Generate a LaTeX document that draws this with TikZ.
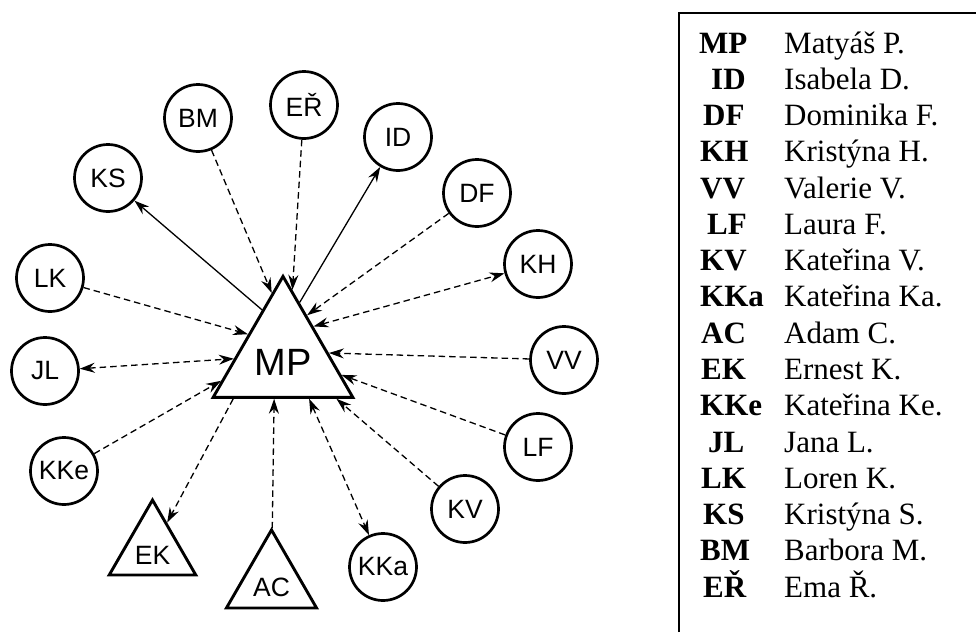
\documentclass[tikz,border=0pt]{standalone}
\usepackage{fontspec}
\setmainfont{Liberation Serif}
\newfontfamily\arialf{Liberation Sans}
\usetikzlibrary{arrows.meta,shapes.geometric}
\newcommand{\lowtext}[1]{\raisebox{-5pt}[\height][\depth]{#1}}
\begin{document}
\begin{tikzpicture}[x=1pt,y=-1pt,
  >={Stealth[length=15pt,width=10pt,inset=5pt]},
  person/.style={circle,draw,line width=2.7pt,minimum size=67pt,inner sep=0pt,
    font=\arialf\fontsize{26.5}{26.5}\selectfont},
  tri/.style={regular polygon,regular polygon sides=3,draw,line width=2.9pt,inner sep=0pt,
    font=\arialf\fontsize{26.5}{26.5}\selectfont},
  link/.style={line width=1.3pt},
  dlink/.style={link,dash pattern=on 6.5pt off 4pt},
  abbr/.style={anchor=base west,inner sep=0pt,font=\bfseries\fontsize{31}{31}\selectfont},
  nm/.style={anchor=base west,inner sep=0pt,font=\fontsize{31}{31}\selectfont}
]
\useasboundingbox (0,0) rectangle (976,632);

% central node and triangles
\node[tri,minimum size=128pt,font=\arialf\fontsize{38}{38}\selectfont] (MP) at (283,357) {\lowtext{MP}};
\node[tri,minimum size=96pt] (EK) at (152.5,550) {\lowtext{EK}};
\node[tri,minimum size=95pt] (AC) at (271.5,582) {\lowtext{AC}};

% circles
\node[person] (BM)  at (198,118) {BM};
\node[person] (ER)  at (304,105) {EŘ};
\node[person] (KS)  at (108,178) {KS};
\node[person] (LK)  at (50,278)  {LK};
\node[person] (ID)  at (398,137) {ID};
\node[person] (DF)  at (477,193) {DF};
\node[person] (KH)  at (538,264) {KH};
\node[person] (VV)  at (564,360) {VV};
\node[person] (LF)  at (538,447) {LF};
\node[person] (KV)  at (465,509) {KV};
\node[person] (KKa) at (383,567) {KKa};
\node[person] (JL)  at (45,371)  {JL};
\node[person] (KKe) at (64,471)  {KKe};

% connectors
\draw[dlink,->] (BM) -- (MP.100.5);
\draw[dlink,->] (ER) -- (MP.82.4);
\draw[link,->] (MP.114.8) -- (KS);
\draw[link,->] (MP.73.3) -- (ID);
\draw[dlink,->] (LK) -- (MP.147.7);
\draw[dlink,->] (DF) -- (MP.60.3);
\draw[dlink,<->] (MP.45) -- (KH);
\draw[dlink,->] (VV) -- (MP.5.4);
\draw[dlink,->] (LF) -- (MP.343.8);
\draw[dlink,->] (KV) -- (MP.322.5);
\draw[dlink,<->] (MP.302.2) -- (KKa);
\draw[dlink,->] (AC) -- (MP.258);
\draw[dlink,->] (MP.220) -- (EK);
\draw[dlink,->] (KKe) -- (MP.201.6);
\draw[dlink,<->] (JL) -- (MP.182.5);

% legend frame
\draw[line width=1.3pt] (679,632) -- (679,13) -- (976,13);

% legend entries
\node[abbr] (lMP)  at (699,53.0)  {MP};   \node[nm] (nMP)  at (784,53.0)  {Matyáš P.};
\node[abbr] (lID)  at (711,89.3)  {ID};   \node[nm] (nID)  at (784,89.3)  {Isabela D.};
\node[abbr] (lDF)  at (703,125.5) {DF};   \node[nm] (nDF)  at (784,125.5) {Dominika F.};
\node[abbr] (lKH)  at (700,161.8) {KH};   \node[nm] (nKH)  at (784,161.8) {Kristýna H.};
\node[abbr] (lVV)  at (700,198.1) {VV};   \node[nm] (nVV)  at (784,198.1) {Valerie V.};
\node[abbr] (lLF)  at (707,234.4) {LF};   \node[nm] (nLF)  at (784,234.4) {Laura F.};
\node[abbr] (lKV)  at (700,270.6) {KV};   \node[nm] (nKV)  at (784,270.6) {Kateřina V.};
\node[abbr] (lKKa) at (700,306.9) {KKa};  \node[nm] (nKKa) at (784,306.9) {Kateřina Ka.};
\node[abbr] (lAC)  at (701,343.2) {AC};   \node[nm] (nAC)  at (784,343.2) {Adam C.};
\node[abbr] (lEK)  at (701,379.4) {EK};   \node[nm] (nEK)  at (784,379.4) {Ernest K.};
\node[abbr] (lKKe) at (700,415.7) {KKe};  \node[nm] (nKKe) at (784,415.7) {Kateřina Ke.};
\node[abbr] (lJL)  at (708,452.0) {JL};   \node[nm] (nJL)  at (784,452.0) {Jana L.};
\node[abbr] (lLK)  at (701,488.2) {LK};   \node[nm] (nLK)  at (784,488.2) {Loren K.};
\node[abbr] (lKS)  at (703,524.5) {KS};   \node[nm] (nKS)  at (784,524.5) {Kristýna S.};
\node[abbr] (lBM)  at (700,560.8) {BM};   \node[nm] (nBM)  at (784,560.8) {Barbora M.};
\node[abbr] (lER)  at (703,597.0) {EŘ};   \node[nm] (nER)  at (784,597.0) {Ema Ř.};
\end{tikzpicture}
\end{document}
